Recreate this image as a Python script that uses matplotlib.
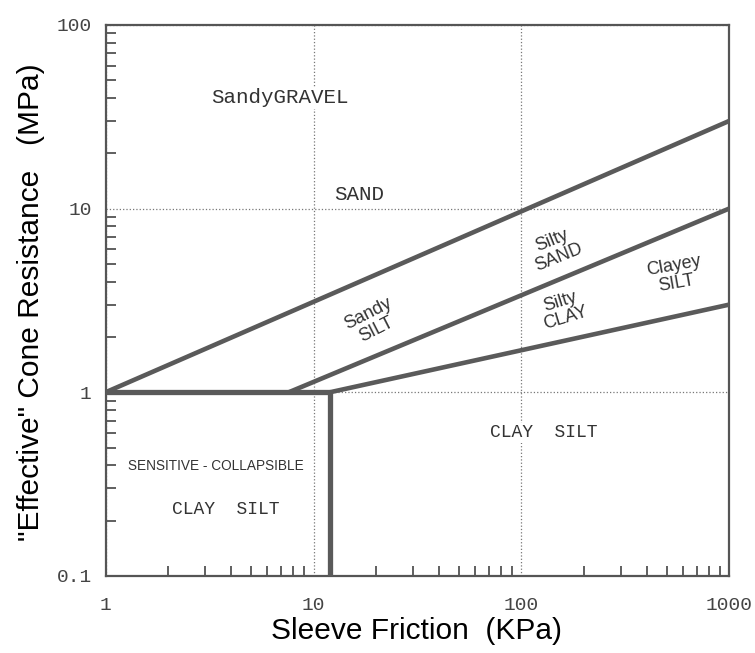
import matplotlib.pyplot as plt
from matplotlib.ticker import FixedLocator, LogLocator, NullFormatter

# boundary lines (sleeve friction KPa, cone resistance MPa)
sand_x = [1, 1000]
sand_y = [1, 30]
silt_x = [7.6, 1000]
silt_y = [1, 10]
clay_x = [12, 1000]
clay_y = [1, 3]
sens_h_x = [1, 12]
sens_h_y = [1, 1]
sens_v_x = [12, 12]
sens_v_y = [0.1, 1]

# zone labels: text, x, y, rotation, kind
zone_labels = [
    ("SandyGRAVEL", 6.9, 40, 0, "mono"),
    ("SAND", 16.5, 11.9, 0, "mono"),
    ("Sandy\nSILT", 19.2, 2.41, 27, "sans"),
    ("Silty\nSAND", 145, 6.0, 22, "sans"),
    ("Silty\nCLAY", 158, 2.8, 17, "sans"),
    ("Clayey\nSILT", 550, 4.36, 10, "sans"),
    ("CLAY  SILT", 128, 0.6, 0, "mono2"),
    ("SENSITIVE - COLLAPSIBLE", 3.4, 0.395, 0, "small"),
    ("CLAY  SILT", 3.8, 0.229, 0, "mono2"),
]

x_ticks = [1, 10, 100, 1000]
y_ticks = [0.1, 1, 10, 100]

line_col = "#5a5a5a"
text_col = "#333333"

fig = plt.figure(figsize=(7.55, 6.53), dpi=100)
ax = fig.add_axes([0.140, 0.118, 0.826, 0.844])
ax.set_xscale("log")
ax.set_yscale("log")
ax.set_xlim(1, 1000)
ax.set_ylim(0.1, 100)

for xs, ys in [(sand_x, sand_y), (silt_x, silt_y), (clay_x, clay_y)]:
    ax.plot(xs, ys, color=line_col, lw=3.3, solid_capstyle="butt", zorder=3)
ax.plot(sens_h_x, sens_h_y, color=line_col, lw=3.8, solid_capstyle="butt", zorder=3)
ax.plot(sens_v_x, sens_v_y, color=line_col, lw=3.8, solid_capstyle="butt", zorder=3)

ax.xaxis.set_major_locator(FixedLocator(x_ticks))
ax.yaxis.set_major_locator(FixedLocator(y_ticks))
ax.set_xticklabels([str(t) for t in x_ticks])
ax.set_yticklabels(["0.1", "1", "10", "100"])
ax.xaxis.set_minor_locator(LogLocator(base=10, subs=range(2, 10)))
ax.yaxis.set_minor_locator(LogLocator(base=10, subs=range(2, 10)))
ax.xaxis.set_minor_formatter(NullFormatter())
ax.yaxis.set_minor_formatter(NullFormatter())

ax.tick_params(which="both", direction="in", color="#444444", width=1.2)
ax.tick_params(which="major", length=0)
ax.tick_params(axis="x", which="major", pad=15)
ax.tick_params(axis="y", which="major", pad=10)
ax.tick_params(which="minor", length=7)
for lab in ax.get_xticklabels() + ax.get_yticklabels():
    lab.set_family("Liberation Mono")
    lab.set_fontsize(14)
    lab.set_color("#444444")

ax.grid(True, which="major", linestyle=":", color="#777777", lw=0.9)
for s in ax.spines.values():
    s.set_color("#555555")
    s.set_linewidth(1.6)

for txt, x, y, rot, kind in zone_labels:
    if kind == "mono":
        fam, size = "Liberation Mono", 15
    elif kind == "mono2":
        fam, size = "Liberation Mono", 13
    elif kind == "small":
        fam, size = "Liberation Sans", 9.8
    else:
        fam, size = "Liberation Sans", 13
    ax.text(x, y, txt, rotation=rot, ha="center", va="center", family=fam,
            fontsize=size, color=text_col, linespacing=1.05, zorder=4,
            bbox=dict(facecolor="white", edgecolor="none", pad=1))

ax.set_xlabel("Sleeve Friction  (KPa)", family="Liberation Sans", fontsize=21.5)
ax.set_ylabel('"Effective" Cone Resistance   (MPa)', family="Liberation Sans", fontsize=21.5)
ax.xaxis.set_label_coords(0.498, -0.075)
ax.yaxis.set_label_coords(-0.097, 0.497)

fig.savefig("out.png", dpi=100)
